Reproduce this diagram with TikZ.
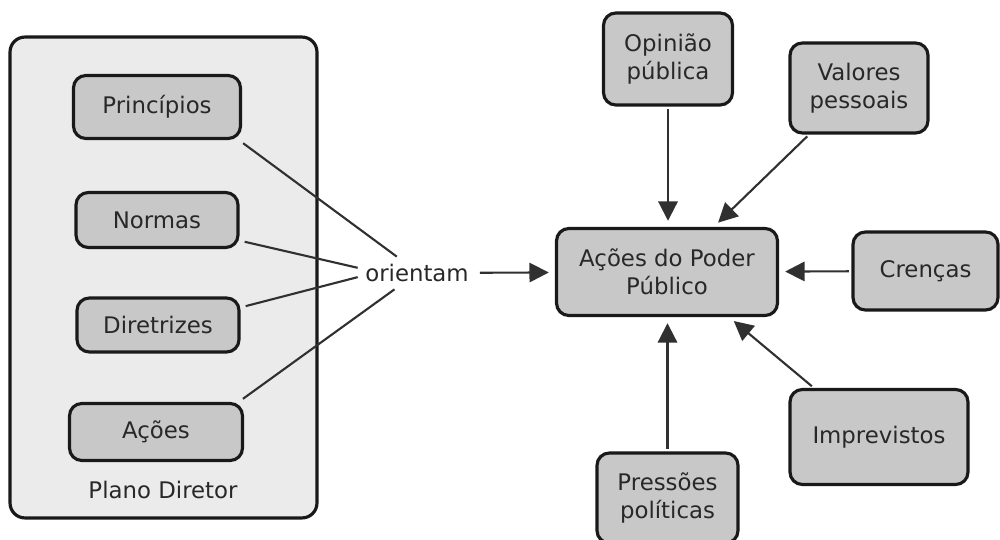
\documentclass[tikz,border=0pt]{standalone}
\usepackage{fontspec}
\setmainfont{DejaVu Sans}
\usepackage{tikz}
\usetikzlibrary{arrows.meta,positioning}
\usepackage{xcolor}
\definecolor{boxgrey}{RGB}{200,200,200}
\definecolor{panelgrey}{RGB}{235,235,235}
\definecolor{edgedark}{RGB}{25,25,25}
\definecolor{textdark}{RGB}{40,40,40}

\begin{document}
\begin{tikzpicture}[
    x=0.02cm, y=-0.02cm,
    concept/.style={rectangle, rounded corners=7pt, draw=edgedark, line width=1.8pt,
                    fill=boxgrey, text=textdark, align=center, inner sep=2pt,
                    font=\fontsize{13}{16}\selectfont},
    planobox/.style={rectangle, rounded corners=8.5pt, draw=edgedark, line width=1.8pt,
                     fill=panelgrey},
    plaintext/.style={text=textdark, font=\fontsize{13}{16}\selectfont},
    link/.style={draw=edgedark!90, line width=1.2pt},
    influence/.style={link, ->, shorten >=3.5pt, shorten <=1.5pt},
    >={Triangle[length=11pt,width=11pt]},
]
    \useasboundingbox (0,0) rectangle (1000,540);
    % plano diretor panel
    \node[planobox, minimum width=6.14cm, minimum height=9.62cm] (plano) at (163.5,277.5) {};
    \node[concept, minimum width=3.34cm, minimum height=1.26cm] (pri) at (157,107) {Princípios};
    \node[concept, minimum width=3.24cm, minimum height=1.10cm] (nor) at (157,220) {Normas};
    \node[concept, minimum width=3.24cm, minimum height=1.08cm] (dir) at (158,325) {Diretrizes};
    \node[concept, minimum width=3.46cm, minimum height=1.14cm] (aco) at (156,432) {Ações};
    \node[plaintext] (planolabel) at (163,490) {Plano Diretor};
    % linking phrase
    \node[plaintext, inner sep=4pt, minimum height=0.64cm, minimum width=2.36cm] (ori) at (417,273) {orientam};
    \foreach \n/\a/\o in {pri/-22/141, nor/-14/175, dir/12/184, aco/20/216} {
        \draw[link, shorten <=3pt] (\n.\a) -- (ori.\o);
    }
    % acoes do poder publico and its influences
    \node[concept, minimum width=4.42cm, minimum height=1.74cm] (cen) at (667,272) {Ações do Poder\\Público};
    \node[concept, minimum width=2.58cm, minimum height=1.84cm] (opi) at (668,59) {Opinião\\pública};
    \node[concept, minimum width=2.76cm, minimum height=1.80cm] (val) at (859,88) {Valores\\pessoais};
    \node[concept, minimum width=2.90cm, minimum height=1.56cm] (cre) at (925.5,271) {Crenças};
    \node[concept, minimum width=3.56cm, minimum height=1.90cm] (imp) at (879,437) {Imprevistos};
    \node[concept, minimum width=2.82cm, minimum height=1.80cm] (pre) at (667.5,498) {Pressões\\políticas};
    \draw[influence, shorten <=2pt] (ori) -- (cen);
    \draw[influence] (opi) -- (cen.north -| opi);
    \draw[influence] (val.223) -- (cen.44);
    \draw[influence] (cre) -- (cen);
    \draw[influence] (imp.143) -- (cen.-36);
    \draw[influence] (pre) -- (cen.south -| pre);
\end{tikzpicture}
\end{document}
